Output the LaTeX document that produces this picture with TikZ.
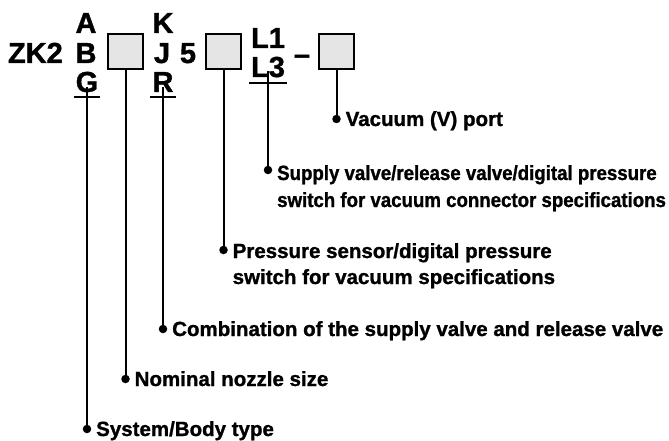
\documentclass[tikz,border=0pt]{standalone}
\usepackage{fontspec}
\setmainfont{Liberation Sans}[BoldFeatures={FakeBold=1.2}]
\newfontfamily\narrowsans{Liberation Sans}[FakeStretch=0.91, BoldFeatures={FakeBold=1.2}]
\usetikzlibrary{positioning,calc}
\definecolor{slotgray}{gray}{0.9}
\tikzset{
  code/.style={font=\fontsize{29}{30}\selectfont\bfseries, inner sep=0pt, anchor=base},
  slot/.style={draw, line width=2pt, fill=slotgray, minimum size=35pt, inner sep=0pt},
  pindot/.style={circle, fill, minimum size=8.5pt, inner sep=0pt},
  lbl/.style={font=\fontsize{20.5}{27}\selectfont\bfseries, inner sep=0pt, anchor=base west, align=left},
  lead/.style={line width=2pt},
}

\begin{document}
\begin{tikzpicture}[x=1pt,y=-1pt]
\useasboundingbox (0,0) rectangle (669,441);

% model code
\node[code, anchor=base east] (zk) at (63,63) {ZK2};
\node[code] (colA) at (86,33) {A};
\node[code] (colB) at (86,63) {B};
\node[code] (colG) at (87,92) {G};
\node[slot] (nozzle) at (125.5,51.5) {};
\node[code] (colK) at (163,33) {K};
\node[code] (colJ) at (162,63) {J};
\node[code] (colR) at (163,92) {R};
\node[code] (five) at (188,63) {5};
\node[slot] (sensor) at (223.5,51.5) {};
\node[code] (colLa) at (268,48) {L1};
\node[code] (colLb) at (268,77) {L3};
\node[code] (dash) at (302,64) {--};
\node[slot] (port) at (336.5,51.5) {};

% underlines
\draw[lead] ([shift={(-2,5)}]colG.base west) -- ([shift={(2,5)}]colG.base east);
\draw[lead] ([shift={(-2,5)}]colR.base west) -- ([shift={(2,5)}]colR.base east);
\draw[lead] ([shift={(-2,6)}]colLb.base west) -- ([shift={(2,6)}]colLb.base east);
\coordinate (uG) at ([yshift=5]colG.base);
\coordinate (uR) at ([yshift=5]colR.base);
\coordinate (uL) at ([yshift=6]colLb.base);

% dots
\node[pindot] (dPort) at (port.south |- 0,119) {};
\node[pindot] (dValve) at (uL |- 0,170) {};
\node[pindot] (dSensor) at (sensor.south |- 0,250) {};
\node[pindot] (dComb) at (uR |- 0,329) {};
\node[pindot] (dNozzle) at (nozzle.south |- 0,379) {};
\node[pindot] (dBody) at (uG |- 0,429) {};

\draw[lead] (port.south) -- (dPort.center);
\draw[lead] (uL) -- (dValve.center);
\draw[lead] (sensor.south) -- (dSensor.center);
\draw[lead] (uR) -- (dComb.center);
\draw[lead] (nozzle.south) -- (dNozzle.center);
\draw[lead] (uG) -- (dBody.center);

% labels (base of a two-line label is its last line)
\node[lbl] (tPort) at ($(dPort)+(9,7)$) {Vacuum (V) port};
\node[lbl, font=\fontsize{20.5}{27}\narrowsans\bfseries] (tValve) at ($(dValve)+(9,37)$) {Supply valve/release valve/digital pressure\\switch for vacuum connector specifications};
\node[lbl, font=\fontsize{20.5}{26}\selectfont\bfseries] (tSensor) at ($(dSensor)+(9,34)$) {Pressure sensor/digital pressure\\switch for vacuum specifications};
\node[lbl] (tComb) at ($(dComb)+(9,7)$) {Combination of the supply valve and release valve};
\node[lbl] (tNozzle) at ($(dNozzle)+(9,7)$) {Nominal nozzle size};
\node[lbl] (tBody) at ($(dBody)+(9,7)$) {System/Body type};
\end{tikzpicture}
\end{document}
